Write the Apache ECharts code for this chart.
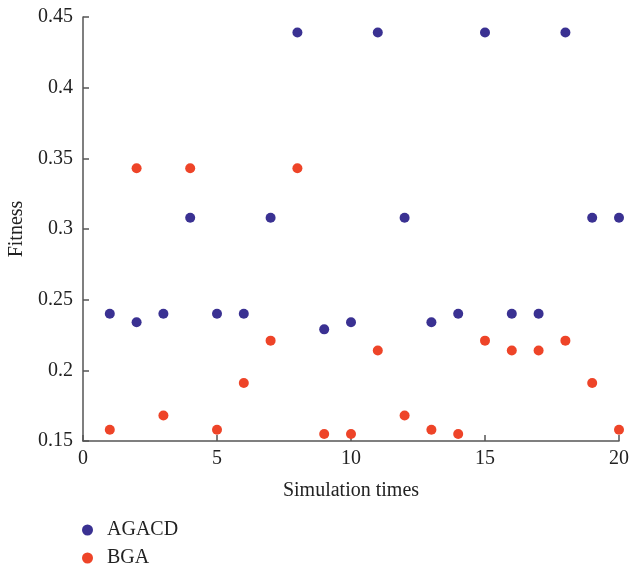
<!DOCTYPE html>
<html>
<head>
<meta charset="utf-8">
<script src="https://cdn.jsdelivr.net/npm/echarts@6/dist/echarts.min.js"></script>
<style>html,body{margin:0;padding:0;background:#fff}#c{width:631px;height:570px}</style>
</head>
<body>
<div id="c"></div>
<script>
const xValues = [1,2,3,4,5,6,7,8,9,10,11,12,13,14,15,16,17,18,19,20];
const agacd = [0.240,0.234,0.240,0.308,0.240,0.240,0.308,0.439,0.229,0.234,0.439,0.308,0.234,0.240,0.439,0.240,0.240,0.439,0.308,0.308];
const bga = [0.158,0.343,0.168,0.343,0.158,0.191,0.221,0.343,0.155,0.155,0.214,0.168,0.158,0.155,0.221,0.214,0.214,0.221,0.191,0.158];
const seriesNames = ['AGACD','BGA'];

const font = '"Liberation Serif","DejaVu Serif",serif';
const legendBase = {
  orient:'vertical', left:82, padding:0,
  icon:'circle', itemWidth:11, itemHeight:11,
  textStyle:{fontFamily:font,fontSize:20,lineHeight:20,color:'#222',padding:[0,0,0,9]}
};
const chart = echarts.init(document.getElementById('c'), null, {renderer:'canvas'});
chart.setOption({
  animation:false,
  backgroundColor:'#fff',
  grid:{left:83,right:12,top:17,bottom:129,containLabel:false,outerBoundsMode:'none'},
  legend:[
    Object.assign({}, legendBase, {top:520, data:[seriesNames[0]]}),
    Object.assign({}, legendBase, {top:548, data:[seriesNames[1]]})
  ],
  xAxis:{
    type:'value', min:0, max:20, interval:5,
    name:'Simulation times', nameLocation:'middle', nameGap:40,
    nameTextStyle:{fontFamily:font,fontSize:20,color:'#222'},
    axisLine:{lineStyle:{color:'#555',width:1.5}},
    axisTick:{inside:true,length:6,lineStyle:{color:'#555',width:1.5}},
    axisLabel:{fontFamily:font,fontSize:20,color:'#222',margin:8},
    splitLine:{show:false}
  },
  yAxis:{
    type:'value', min:0.15, max:0.45, interval:0.05,
    name:'Fitness', nameLocation:'middle', nameGap:54, nameRotate:90,
    nameTextStyle:{fontFamily:font,fontSize:20,color:'#222'},
    axisLine:{show:true,lineStyle:{color:'#555',width:1.5}},
    axisTick:{show:true,inside:true,length:6,lineStyle:{color:'#555',width:1.5}},
    axisLabel:{fontFamily:font,fontSize:20,color:'#222',margin:10,
      formatter:function(v){return (Math.round(v*100)/100).toString();}},
    splitLine:{show:false}
  },
  series:[
    {name:seriesNames[0],type:'scatter',symbolSize:10,itemStyle:{color:'#3a3192',opacity:1},
     data:xValues.map((x,i)=>[x,agacd[i]])},
    {name:seriesNames[1],type:'scatter',symbolSize:10,itemStyle:{color:'#ee4428',opacity:1},
     data:xValues.map((x,i)=>[x,bga[i]])}
  ]
});
</script>
</body>
</html>
